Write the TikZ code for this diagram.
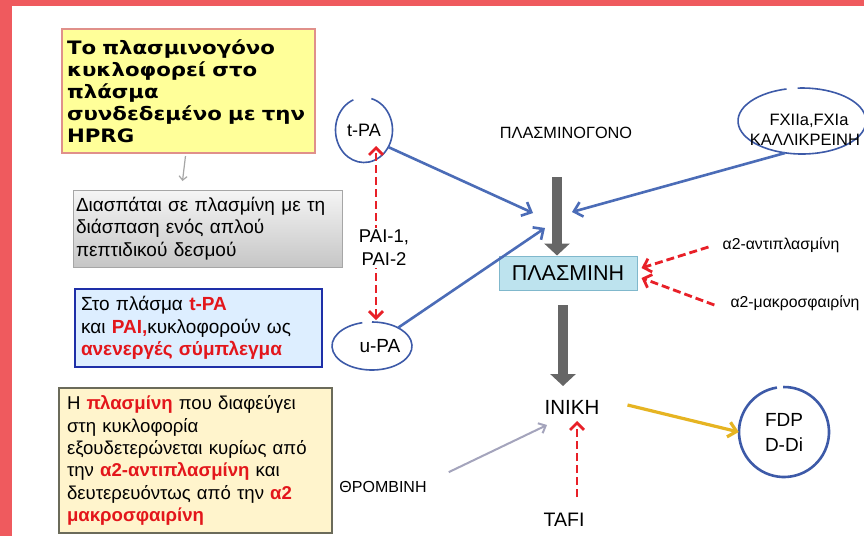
\documentclass[tikz,border=0pt]{standalone}
\usepackage{fontspec}
\setmainfont{Liberation Sans}
\newfontfamily\dejab[FakeStretch=1.15]{DejaVu Sans}
\usetikzlibrary{arrows.meta,shapes.geometric}
\definecolor{bgred}{HTML}{EF5A5E}
\definecolor{txtred}{HTML}{E3161B}
\definecolor{ylfill}{HTML}{FFFF99}
\definecolor{ylbord}{HTML}{E0908A}
\definecolor{blfill}{HTML}{DDEEFF}
\definecolor{blbord}{HTML}{1E2FA8}
\definecolor{bgfill}{HTML}{FFF4CC}
\definecolor{bgbord}{HTML}{6B6B5A}
\definecolor{plfill}{HTML}{BDE3EE}
\definecolor{plbord}{HTML}{80B8CC}
\definecolor{lineblue}{HTML}{4B6CB7}
\definecolor{circblue}{HTML}{3D5AA8}
\definecolor{reddash}{HTML}{E82028}
\definecolor{darkarr}{HTML}{666666}
\definecolor{goldarr}{HTML}{E6B422}
\definecolor{thrgray}{HTML}{A4A4BC}
\newcommand{\redb}[1]{\textcolor{txtred}{\textbf{#1}}}
\begin{document}
\begin{tikzpicture}[x=1pt,y=-1pt,
  boxnode/.style={anchor=north west, align=left, inner ysep=0pt, outer sep=0pt,
    font=\fontsize{19}{22.5}\selectfont},
  circline/.style={draw=circblue, line width=1.6pt},
  bluearr/.style={draw=lineblue, line width=2.6pt, -{Straight Barb[length=8pt,width=15pt]}},
  redarr/.style={draw=reddash, line width=2.8pt, dash pattern=on 8pt off 4pt,
    -{Straight Barb[length=7pt,width=14pt]}},
  bigarr/.style={draw=darkarr, line width=10pt, -{Triangle[length=12pt,width=25pt]}},
  lbl/.style={inner sep=0pt}
]
\useasboundingbox (0,0) rectangle (864,536);
\fill[bgred] (0,0) rectangle (864,536);
\fill[white] (12,6) rectangle (864,536);

% left boxes
\node[boxnode, draw=ylbord, line width=1.4pt, fill=ylfill, inner xsep=5pt,
  minimum width=253pt, minimum height=124pt, text width=243pt,
  font=\dejab\bfseries\fontsize{18.5}{22}\selectfont] (yel) at (62,29)
  {Το πλασμινογόνο\\κυκλοφορεί στο\\πλάσμα\\συνδεδεμένο με την\\HPRG};
\node[boxnode, draw=gray!70, line width=0.8pt, top color=gray!8, bottom color=gray!45,
  inner xsep=3pt, minimum width=269pt, minimum height=77pt, text width=263pt] (gbox) at (73,190)
  {Διασπάται σε πλασμίνη με τη\\διάσπαση ενός απλού\\πεπτιδικού δεσμού};
\node[boxnode, draw=blbord, line width=1.8pt, fill=blfill, inner xsep=6pt,
  minimum width=247pt, minimum height=78pt, text width=235pt] (bbox) at (75,289)
  {Στο πλάσμα \redb{t-PA}\\και \redb{PAI,}κυκλοφορούν ως\\\redb{ανενεργές σύμπλεγμα}};
\node[boxnode, draw=bgbord, line width=1.6pt, fill=bgfill, inner xsep=8pt,
  minimum width=273pt, minimum height=145pt, text width=257pt,
  font=\fontsize{18.6}{22.3}\selectfont] (nbox) at (59,388)
  {Η \redb{πλασμίνη} που διαφεύγει\\στη κυκλοφορία\\εξουδετερώνεται κυρίως από\\την \redb{α2-αντιπλασμίνη} και\\δευτερευόντως από την \redb{α2}\\\redb{μακροσφαιρίνη}};
\draw[draw=gray!70, line width=1.2pt, -{Straight Barb[length=4pt,width=8pt]}]
  ([xshift=-3pt,yshift=-3pt]yel.south) -- ([xshift=-25pt,yshift=9pt]gbox.north);

% circles / ellipses
\node[ellipse, minimum width=57pt, minimum height=65pt, inner sep=0pt,
  font=\fontsize{18}{20}\selectfont] (tpa) at (364,130) {t-PA};
\draw[circline] (tpa.center) ++(112:28.5pt and 32.5pt) arc[start angle=112, end angle=435, x radius=28.5pt, y radius=32.5pt];
\node[ellipse, minimum width=80pt, minimum height=48pt, inner sep=0pt,
  font=\fontsize{19}{20}\selectfont] (upa) at (372,346) {\hspace*{16pt}u-PA};
\draw[circline] (upa.center) ++(104:40pt and 24pt) arc[start angle=104, end angle=450, x radius=40pt, y radius=24pt];
\node[ellipse, minimum width=128pt, minimum height=66pt, inner sep=0pt] (fx) at (802,121) {};
\draw[circline] (fx.center) ++(104:64pt and 33pt) arc[start angle=104, end angle=454, x radius=64pt, y radius=33pt];
\node[lbl, align=center, font=\fontsize{16.5}{20}\selectfont] (fxt) at (805,130) {\hspace*{8pt}FXIIa,FXIa\\ΚΑΛΛΙΚΡΕΙΝΗ};
\node[circle, minimum size=90pt, inner sep=0pt, align=center,
  font=\fontsize{19}{25}\selectfont] (fdp) at (784,432) {FDP\\D-Di};
\draw[circline, line width=2.6pt] (fdp.center) ++(99:45pt) arc[start angle=99, end angle=451, radius=45pt];

% center labels
\node[lbl, font=\fontsize{16.3}{18}\selectfont] (plgn) at (566,133) {ΠΛΑΣΜΙΝΟΓΟΝΟ};
\node[draw=plbord, line width=1pt, fill=plfill, minimum width=138pt, minimum height=34pt,
  inner sep=0pt, font=\fontsize{21.5}{24}\selectfont] (plasmin) at (568,273) {ΠΛΑΣΜΙΝΗ};
\node[lbl, font=\fontsize{20.5}{22}\selectfont] (inikh) at (572,407) {ΙΝΙΚΗ};
\node[lbl, font=\fontsize{19.5}{22}\selectfont] (tafi) at (564,520) {TAFI};
\node[lbl, font=\fontsize{16}{18}\selectfont] (thromb) at (383,487) {ΘΡΟΜΒΙΝΗ};
\node[lbl, font=\fontsize{15.8}{18}\selectfont] (anti) at (781,245) {α2-αντιπλασμίνη};
\node[lbl, font=\fontsize{15.8}{18}\selectfont] (makro) at (795,303) {α2-μακροσφαιρίνη};

% coordinates of free ends
\coordinate (tip1) at (533,213);
\coordinate (tip2) at (545,228);
\coordinate (tip3) at (572,212);
\coordinate (paitop) at (376,146);
\coordinate (paibot) at (376,320);
\coordinate (a1s) at (557,177);
\coordinate (a2s) at (563,305);
\coordinate (a2e) at (563,386);
\coordinate (thtip) at (547,425);
\coordinate (tafis) at (577,497);
\coordinate (tafie) at (577,421);

% connectors
\draw[bluearr] (tpa.-35) -- (tip1);
\draw[bluearr] (upa.35) -- (tip2);
\draw[bluearr] (fx.-118) -- (tip3);
\draw[redarr, {Straight Barb[length=7pt,width=14pt]}-{Straight Barb[length=7pt,width=14pt]}] (paibot) -- (paitop);
\node[lbl, fill=white, inner sep=2pt, align=center,
  font=\fontsize{18.5}{23}\selectfont] (pai) at (384,248) {PAI-1,\\PAI-2};
\draw[redarr] ([xshift=-14pt,yshift=-2pt]anti.west) -- ([xshift=4pt,yshift=5pt]plasmin.east);
\draw[redarr] ([xshift=-16pt,yshift=-2pt]makro.west) -- ([xshift=4pt,yshift=-5pt]plasmin.east);
\draw[bigarr] (a1s) -- (a1s |- plasmin.north);
\draw[bigarr] (a2s) -- (a2e);
\draw[draw=thrgray, line width=2pt, -{Straight Barb[length=6pt,width=11pt]}]
  ([xshift=22pt,yshift=9pt]thromb.north east) -- (thtip);
\draw[redarr] (tafis) -- (tafie);
\draw[draw=goldarr, line width=3.2pt, -{Straight Barb[length=8pt,width=15pt]}]
  ([xshift=28pt,yshift=2pt]inikh.east) -- (fdp.west);
\end{tikzpicture}
\end{document}
